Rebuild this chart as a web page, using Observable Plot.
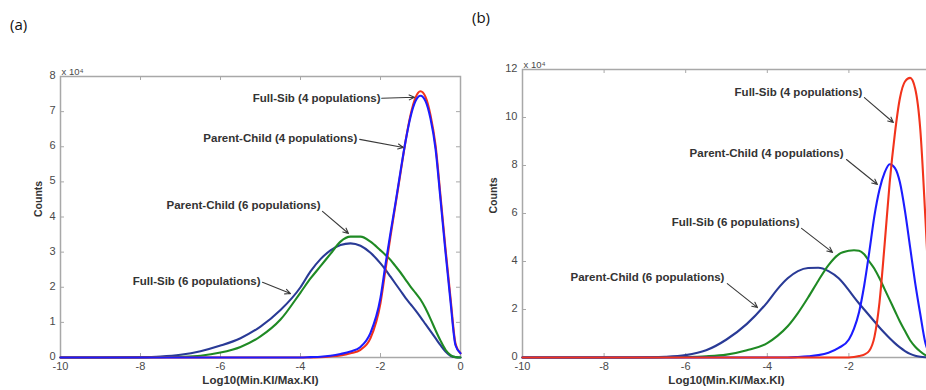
<!DOCTYPE html>
<html><head><meta charset="utf-8">
<script src="https://cdn.jsdelivr.net/npm/d3@7"></script>
<script src="https://cdn.jsdelivr.net/npm/@observablehq/plot@0.6"></script>
<style>
html,body{margin:0;padding:0;background:#fff;overflow:hidden;}
#wrap{position:relative;width:926px;height:390px;overflow:hidden;}
.panel{position:absolute;top:0;}
.tag{position:absolute;font-family:"Open Sans","Liberation Sans",sans-serif;font-size:15px;color:#111;line-height:1;z-index:2;}
</style></head>
<body><div id="wrap">
<div id="pa" class="panel" style="left:0px"></div>
<div id="pb" class="panel" style="left:462px"></div>
<div class="tag" style="left:10px;top:17px">(a)</div>
<div class="tag" style="left:472px;top:10px">(b)</div>
</div>
<script>
// shared x grid: Log10(Min.KI/Max.KI)
const xGrid = [-10,-9,-8,-7.5,-7,-6.5,-6,-5.5,-5,-4.5,-4,-3.75,-3.5,-3.25,-3,-2.75,-2.5,-2.25,-2,-1.875,-1.75,-1.625,-1.5,-1.375,-1.25,-1.125,-1,-0.875,-0.75,-0.625,-0.5,-0.375,-0.25,-0.125,0];
const xTicks = [-10,-8,-6,-4,-2,0];
const xLabelsA = [-10,-8,-6,-4,-2,0];
const xLabelsB = [-10,-8,-6,-4,-2];   // the "0" of panel (b) falls outside the picture
const yTicksA = [0,1,2,3,4,5,6,7,8];
const yTicksB = [0,2,4,6,8,10,12];

// Panel (a), counts in units of 10^4
const fullSib4A     = [0,0,0,0,0,0,0,0,0,0,0,0,0.01,0.03,0.06,0.12,0.22,0.55,1.55,2.5,3.45,4.35,5.25,6.15,6.9,7.4,7.58,7.42,6.9,6.05,4.6,3.1,1.7,0.4,0.12];
const parentChild4A = [0,0,0,0,0,0,0,0,0,0,0,0.01,0.02,0.05,0.1,0.17,0.3,0.7,1.7,2.65,3.55,4.4,5.3,6.15,6.85,7.3,7.45,7.3,6.8,5.95,4.5,3.0,1.6,0.35,0.12];
const parentChild6A = [0,0,0,0.01,0.02,0.05,0.14,0.3,0.6,1.08,1.85,2.25,2.6,2.95,3.3,3.44,3.44,3.3,3.05,2.92,2.78,2.6,2.42,2.22,2.02,1.84,1.65,1.4,1.1,0.78,0.48,0.22,0.07,0.01,0];
const fullSib6A     = [0,0,0.01,0.03,0.08,0.18,0.34,0.55,0.88,1.35,2.0,2.45,2.8,3.05,3.2,3.25,3.18,2.98,2.68,2.5,2.3,2.1,1.9,1.7,1.52,1.34,1.15,0.95,0.75,0.55,0.35,0.17,0.05,0.01,0];

// Panel (b), counts in units of 10^4
const fullSib4B     = [0,0,0,0,0,0,0,0,0,0,0,0,0,0,0,0,0,0,0,0.02,0.06,0.12,0.28,0.85,2.3,4.7,7.3,9.3,10.8,11.5,11.65,11.2,9.5,5.8,1.6];
const parentChild4B = [0,0,0,0,0,0,0,0,0,0,0,0,0,0.02,0.05,0.1,0.2,0.4,0.75,1.2,1.9,3.0,4.4,5.9,7.0,7.7,8.05,7.9,7.3,6.1,4.6,3.1,1.8,0.6,0.1];
const fullSib6B     = [0,0,0,0,0,0.01,0.02,0.05,0.12,0.3,0.6,0.9,1.3,1.85,2.5,3.2,3.85,4.3,4.45,4.47,4.45,4.3,4.0,3.7,3.3,2.85,2.4,1.95,1.5,1.1,0.72,0.45,0.25,0.1,0.03];
const parentChild6B = [0,0,0,0,0.01,0.03,0.1,0.3,0.75,1.4,2.3,2.85,3.3,3.6,3.73,3.74,3.6,3.3,2.8,2.52,2.25,2.0,1.75,1.5,1.25,1.02,0.8,0.6,0.42,0.27,0.15,0.07,0.03,0.01,0];

// annotation labels (data coordinates: label end, arrow start/end)
const notesA = [
  {label:"Full-Sib (4 populations)",     tx:-2.0,  ty:7.38, x1:-1.97, y1:7.38, x2:-1.15, y2:7.41},
  {label:"Parent-Child (4 populations)", tx:-2.58, ty:6.24, x1:-2.52, y1:6.21, x2:-1.43, y2:5.98},
  {label:"Parent-Child (6 populations)", tx:-3.5,  ty:4.33, x1:-3.45, y1:4.16, x2:-2.8,  y2:3.53},
  {label:"Full-Sib (6 populations)",     tx:-5.0,  ty:2.17, x1:-4.95, y1:2.14, x2:-4.25, y2:1.82}
];
const notesB = [
  {label:"Full-Sib (4 populations)",     tx:-1.67, ty:11.04, x1:-1.62, y1:10.83, x2:-0.91, y2:9.79},
  {label:"Parent-Child (4 populations)", tx:-2.13, ty:8.5,   x1:-2.06, y1:8.25,  x2:-1.30, y2:7.21},
  {label:"Full-Sib (6 populations)",     tx:-3.21, ty:5.63,  x1:-3.16, y1:5.38,  x2:-2.40, y2:4.38},
  {label:"Parent-Child (6 populations)", tx:-5.05, ty:3.33,  x1:-4.98, y1:3.08,  x2:-4.24, y2:2.08}
];

const RED = "#f2331c", BLUE = "#1c1cff", GREEN = "#1f8a24", NAVY = "#293a96";
const seriesA = [
  {name:"Full-Sib (6 populations)", values: fullSib6A, color: NAVY},
  {name:"Parent-Child (6 populations)", values: parentChild6A, color: GREEN},
  {name:"Full-Sib (4 populations)", values: fullSib4A, color: RED},
  {name:"Parent-Child (4 populations)", values: parentChild4A, color: BLUE}
];
const seriesB = [
  {name:"Parent-Child (6 populations)", values: parentChild6B, color: NAVY},
  {name:"Full-Sib (6 populations)", values: fullSib6B, color: GREEN},
  {name:"Parent-Child (4 populations)", values: parentChild4B, color: BLUE},
  {name:"Full-Sib (4 populations)", values: fullSib4B, color: RED}
];

const FONT = "'Liberation Sans', Arial, Helvetica, sans-serif";
const GRAY = "#a8a8a8";

function panel({series, yMax, yTicks, xLabels, notes, width, marginLeft, marginRight, marginTop, countsDx}) {
  const H = 390, mb = 33;
  const ih = H - marginTop - mb, iw = width - marginLeft - marginRight;
  const lines = series.map(s => Plot.line(xGrid.map((x, i) => ({x, y: s.values[i]})), {
    x: "x", y: "y", stroke: s.color, strokeWidth: 2.1, curve: "monotone-x"
  }));
  return Plot.plot({
    width, height: H, marginLeft, marginRight, marginTop, marginBottom: mb,
    style: {background: "transparent", maxWidth: "none", overflow: "visible", fontFamily: FONT},
    x: {domain: [-10, 0]},
    y: {domain: [0, yMax]},
    marks: [
      Plot.frame({stroke: GRAY, strokeWidth: 1.5}),
      Plot.tickX(xTicks, {x: d => d, stroke: GRAY, insetTop: ih - 4}),
      Plot.tickX(xTicks, {x: d => d, stroke: GRAY, insetBottom: ih - 4}),
      Plot.tickY(yTicks, {y: d => d, stroke: GRAY, insetRight: iw - 4}),
      Plot.tickY(yTicks, {y: d => d, stroke: GRAY, insetLeft: iw - 4}),
      Plot.axisX(xLabels, {tickSize: 0, tickPadding: 5, tickFormat: d => String(d), fontSize: 11, color: "#4a4a4a", label: null}),
      Plot.axisY(yTicks, {tickSize: 0, tickPadding: 5, tickFormat: d => String(d), fontSize: 11, color: "#4a4a4a", label: null, dy: -1}),
      Plot.text(["x 10\u2074"], {frameAnchor: "top-left", textAnchor: "start", dx: 1, dy: -8, fontSize: 9.5, fill: "#4a4a4a"}),
      Plot.text(["Counts"], {frameAnchor: "left", rotate: -90, dx: countsDx, fontSize: 10.5, fontWeight: "bold", fill: "#333"}),
      Plot.text(["Log10(Min.KI/Max.KI)"], {frameAnchor: "bottom", dy: 26, fontSize: 11.5, fontWeight: "bold", fill: "#333"}),
      ...lines,
      Plot.arrow(notes, {x1: "x1", y1: "y1", x2: "x2", y2: "y2", stroke: "#3a3a3a", strokeWidth: 1.1, headLength: 8, headAngle: 50}),
      Plot.text(notes, {x: "tx", y: "ty", text: "label", textAnchor: "end", fontSize: 11.5, fontWeight: "bold", fill: "#333"})
    ]
  });
}

document.getElementById("pa").appendChild(panel({
  series: seriesA, yMax: 8, yTicks: yTicksA, xLabels: xLabelsA, notes: notesA,
  width: 462, marginLeft: 60, marginRight: 2, marginTop: 76, countsDx: -22
}));
document.getElementById("pb").appendChild(panel({
  series: seriesB, yMax: 12, yTicks: yTicksB, xLabels: xLabelsB, notes: notesB,
  width: 468, marginLeft: 60, marginRight: 0, marginTop: 69, countsDx: -29
}));
</script>
</body></html>
